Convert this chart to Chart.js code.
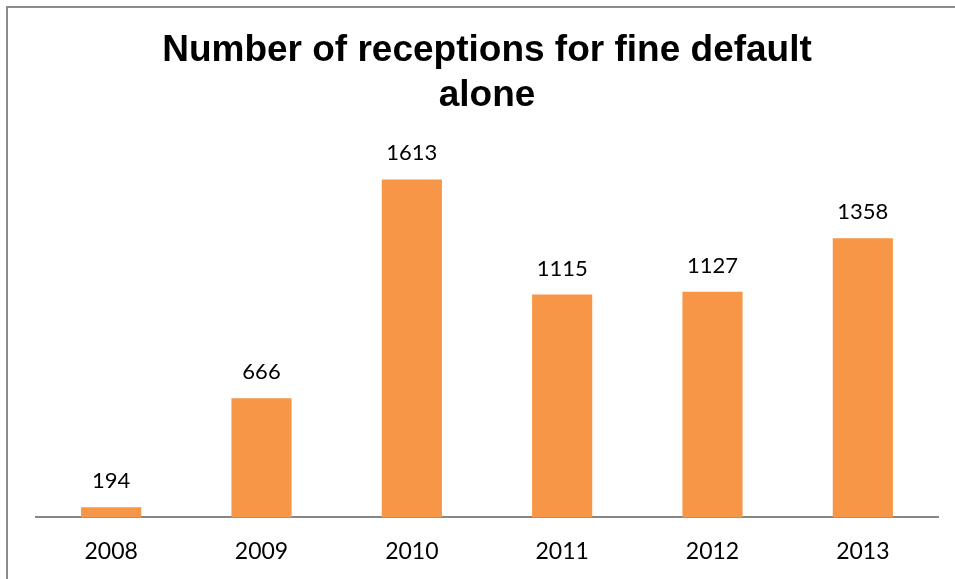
<!DOCTYPE html>
<html>
<head>
<meta charset="utf-8">
<script src="https://cdn.jsdelivr.net/npm/chart.js@4/dist/chart.umd.min.js"></script>
<style>
    html, body { margin: 0; padding: 0; background: #fff; }
    #wrap { width: 955px; height: 579px; position: relative; }
</style>
</head>
<body>
<div id="wrap"><canvas id="barChart"></canvas></div>
<script>
const years = ["2008", "2009", "2010", "2011", "2012", "2013"];
const receptions = [194, 666, 1613, 1115, 1127, 1358];
const yMin = 150;
const yMax = 1800;

// frame line along the left and top edges
const framePlugin = {
    id: "frame",
    beforeDraw(chart) {
        const ctx = chart.ctx;
        ctx.save();
        ctx.fillStyle = "#fff";
        ctx.fillRect(0, 0, chart.width, chart.height);
        ctx.strokeStyle = "#8c8c8c";
        ctx.lineWidth = 2;
        ctx.strokeRect(7, 7, chart.width + 20, chart.height + 20);
        ctx.restore();
    }
};

// value labels above each bar
const valueLabels = {
    id: "valueLabels",
    afterDatasetsDraw(chart) {
        const ctx = chart.ctx;
        const meta = chart.getDatasetMeta(0);
        ctx.save();
        ctx.font = "22px Lato";
        ctx.fillStyle = "#000";
        ctx.textAlign = "center";
        ctx.textBaseline = "alphabetic";
        meta.data.forEach((bar, i) => {
            ctx.fillText(String(receptions[i]), bar.x, bar.y - 19);
        });
        ctx.restore();
    }
};

const ctx = document.getElementById("barChart").getContext("2d");
new Chart(ctx, {
    type: "bar",
    data: {
        labels: years,
        datasets: [{
            label: "Receptions",
            data: receptions,
            backgroundColor: "#f79646",
            borderWidth: 0,
            barPercentage: 0.4,
            categoryPercentage: 1
        }]
    },
    options: {
        responsive: true,
        maintainAspectRatio: false,
        animation: false,
        layout: { padding: { left: 36, right: 17, top: 0, bottom: -6 } },
        plugins: {
            legend: { display: false },
            tooltip: { enabled: false },
            title: {
                display: true,
                text: ["Number of receptions for fine default", "alone"],
                color: "#000",
                font: { family: "Liberation Sans, Arial", size: 37, weight: "bold", lineHeight: 1.22 },
                padding: { top: 28, bottom: 18 }
            }
        },
        scales: {
            x: {
                grid: { display: false, drawTicks: false },
                border: { display: true, color: "#868686", width: 2 },
                ticks: {
                    color: "#000",
                    padding: 20,
                    font: { family: "Lato", size: 23 }
                }
            },
            y: {
                display: false,
                min: yMin,
                max: yMax
            }
        }
    },
    plugins: [framePlugin, valueLabels]
});
</script>
</body>
</html>
